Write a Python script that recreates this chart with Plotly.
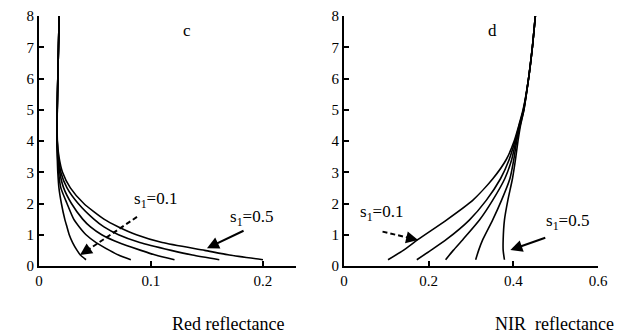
import plotly.graph_objects as go

# LAI levels (y) shared by the red-band curves
lai_red = [0.2, 0.35, 0.5, 0.75, 1.0, 1.25, 1.5, 2.0, 2.5, 3.0, 3.5, 4.0, 5.0, 6.0, 7.0, 8.0]
red_s01 = [0.042, 0.037, 0.034, 0.030, 0.027, 0.025, 0.023, 0.020, 0.0178, 0.0168, 0.0163, 0.016, 0.0163, 0.0168, 0.0174, 0.018]
red_s02 = [0.082, 0.071, 0.063, 0.051, 0.042, 0.036, 0.031, 0.025, 0.0195, 0.0175, 0.0166, 0.0161, 0.0163, 0.0168, 0.0174, 0.018]
red_s03 = [0.121, 0.104, 0.091, 0.071, 0.056, 0.046, 0.039, 0.029, 0.022, 0.0185, 0.0170, 0.0162, 0.0163, 0.0168, 0.0174, 0.018]
red_s04 = [0.161, 0.137, 0.118, 0.090, 0.071, 0.058, 0.049, 0.035, 0.025, 0.0195, 0.0174, 0.0163, 0.0163, 0.0168, 0.0174, 0.018]
red_s05 = [0.200, 0.170, 0.148, 0.110, 0.087, 0.071, 0.058, 0.040, 0.028, 0.021, 0.0178, 0.0164, 0.0163, 0.0168, 0.0174, 0.018]

# LAI levels (y) shared by the NIR curves
lai_nir = [0.2, 0.5, 0.85, 1.47, 2.1, 2.8, 3.4, 4.0, 4.5, 5.0, 6.0, 7.0, 8.0]
nir_s01 = [0.104, 0.140, 0.175, 0.242, 0.304, 0.352, 0.383, 0.402, 0.413, 0.423, 0.436, 0.445, 0.452]
nir_s02 = [0.172, 0.205, 0.242, 0.296, 0.336, 0.370, 0.390, 0.404, 0.414, 0.424, 0.436, 0.445, 0.452]
nir_s03 = [0.240, 0.258, 0.281, 0.320, 0.351, 0.380, 0.396, 0.406, 0.415, 0.424, 0.436, 0.445, 0.452]
nir_s04 = [0.311, 0.318, 0.328, 0.351, 0.372, 0.392, 0.401, 0.408, 0.416, 0.425, 0.436, 0.445, 0.452]
nir_s05 = [0.379, 0.376, 0.376, 0.379, 0.387, 0.398, 0.405, 0.411, 0.417, 0.425, 0.436, 0.445, 0.452]

x_ticks_red = [0, 0.1, 0.2]
x_ticks_nir = [0, 0.2, 0.4, 0.6]
y_ticks = [0, 1, 2, 3, 4, 5, 6, 7, 8]

FONT = "Liberation Serif, 'Times New Roman', DejaVu Serif, serif"
line = dict(color="black", width=1.6, shape="spline", smoothing=0.6)

W, H = 622, 333
ML, MR, MT, MB = 39, 24, 16, 67
PW, PH = W - ML - MR, H - MT - MB

fig = go.Figure()
for xs in [red_s01, red_s02, red_s03, red_s04, red_s05]:
    fig.add_trace(go.Scatter(x=xs, y=lai_red, mode="lines", line=line, xaxis="x", yaxis="y",
                             showlegend=False, hoverinfo="skip"))
for xs in [nir_s01, nir_s02, nir_s03, nir_s04, nir_s05]:
    fig.add_trace(go.Scatter(x=xs, y=lai_nir, mode="lines", line=line, xaxis="x2", yaxis="y2",
                             showlegend=False, hoverinfo="skip"))

axis_common = dict(showgrid=False, zeroline=False, showline=True, linecolor="black", linewidth=2,
                   ticks="inside", ticklen=5, tickwidth=1.5, tickcolor="black",
                   tickfont=dict(family=FONT, size=15, color="black"))

fig.update_layout(
    width=W, height=H,
    margin=dict(l=ML, r=MR, t=MT, b=MB, autoexpand=False),
    paper_bgcolor="white", plot_bgcolor="white",
    xaxis=dict(domain=[0, (296 - ML) / PW], range=[0, 0.2295], tickvals=x_ticks_red,
               ticktext=["0", "0.1", "0.2"], anchor="y", **axis_common),
    yaxis=dict(domain=[0, 1], range=[0, 8], tickvals=y_ticks, anchor="x", **axis_common),
    xaxis2=dict(domain=[(344 - ML) / PW, 1], range=[0, 0.6], tickvals=x_ticks_nir,
                ticktext=["0", "0.2", "0.4", "0.6"], anchor="y2", **axis_common),
    yaxis2=dict(domain=[0, 1], range=[0, 8], tickvals=y_ticks, anchor="x2", **axis_common),
)

tfont = dict(family=FONT, size=15, color="black")
lfont = dict(family=FONT, size=17, color="black")
afont = dict(family=FONT, size=18, color="black")
ann = []
# panel letters
ann.append(dict(x=0.132, y=7.55, xref="x", yref="y", text="c", showarrow=False, font=lfont))
ann.append(dict(x=0.351, y=7.55, xref="x2", yref="y2", text="d", showarrow=False, font=lfont))
# labels
ann.append(dict(x=0.104, y=2.1, xref="x", yref="y", text="s<sub>1</sub>=0.1", showarrow=False, font=lfont))
ann.append(dict(x=0.19, y=1.54, xref="x", yref="y", text="s<sub>1</sub>=0.5", showarrow=False, font=lfont))
ann.append(dict(x=0.089, y=1.7, xref="x2", yref="y2", text="s<sub>1</sub>=0.1", showarrow=False, font=lfont))
ann.append(dict(x=0.527, y=1.41, xref="x2", yref="y2", text="s<sub>1</sub>=0.5", showarrow=False, font=lfont))
# solid arrows
ann.append(dict(x=0.150, y=0.57, ax=0.184, ay=1.15, xref="x", yref="y", axref="x", ayref="y",
                text="", showarrow=True, arrowhead=2, arrowsize=1.2, arrowwidth=2, arrowcolor="black"))
ann.append(dict(x=0.393, y=0.51, ax=0.479, ay=0.92, xref="x2", yref="y2", axref="x2", ayref="y2",
                text="", showarrow=True, arrowhead=2, arrowsize=1.2, arrowwidth=2, arrowcolor="black"))
# dashed arrow heads (short shafts)
ann.append(dict(x=0.0366, y=0.35, ax=0.042, ay=0.48, xref="x", yref="y", axref="x", ayref="y",
                text="", showarrow=True, arrowhead=2, arrowsize=1.2, arrowwidth=2, arrowcolor="black"))
ann.append(dict(x=0.175, y=0.83, ax=0.157, ay=0.887, xref="x2", yref="y2", axref="x2", ayref="y2",
                text="", showarrow=True, arrowhead=2, arrowsize=1.2, arrowwidth=2, arrowcolor="black"))
# axis titles (pixel positions converted to plot-area paper coords)
ann.append(dict(x=(228 - ML) / PW, y=(H - 324 - MB) / PH, xref="paper", yref="paper",
                text="Red reflectance", showarrow=False, font=afont, xanchor="center", yanchor="middle"))
ann.append(dict(x=(554 - ML) / PW, y=(H - 324 - MB) / PH, xref="paper", yref="paper",
                text="NIR&nbsp;&nbsp;reflectance", showarrow=False, font=afont, xanchor="center", yanchor="middle"))
fig.update_layout(annotations=ann)

shapes = [
    dict(type="line", x0=0.0875, y0=1.57, x1=0.041, y1=0.45, xref="x", yref="y", layer="above",
         line=dict(color="black", width=2, dash="5px,3px")),
    dict(type="line", x0=0.091, y0=1.10, x1=0.160, y1=0.88, xref="x2", yref="y2", layer="above",
         line=dict(color="black", width=2, dash="5px,3px")),
]
fig.update_layout(shapes=shapes)

fig.write_html("out.html", config={"displayModeBar": False},
               post_script="document.body.style.margin='0';document.body.style.padding='0';")
